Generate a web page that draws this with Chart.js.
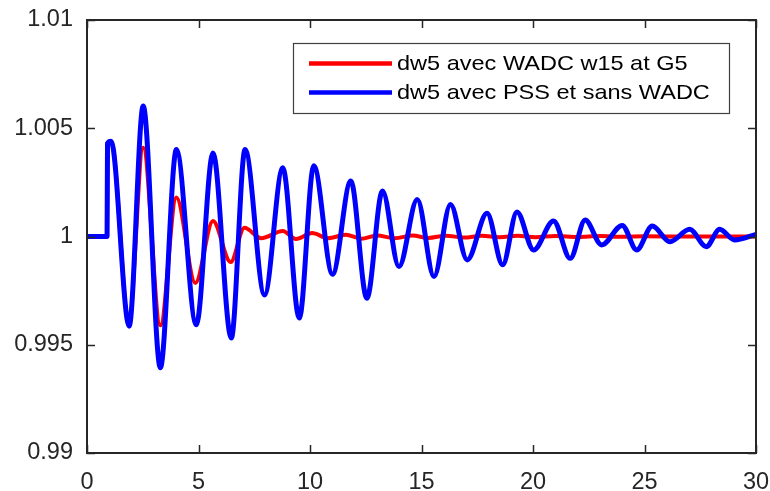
<!DOCTYPE html>
<html>
<head>
<meta charset="utf-8">
<title>dw5</title>
<script src="https://cdn.jsdelivr.net/npm/chart.js@4/dist/chart.umd.min.js"></script>
<style>
  html, body { margin: 0; padding: 0; background: #fff; }
  #plot { display: block; }
</style>
</head>
<body>
<canvas id="plot" width="770" height="491"></canvas>
<script>
// time axis ticks (s) and speed ticks (pu)
const xTicks = [0, 5, 10, 15, 20, 25, 30];
const yTicks = [0.99, 0.995, 1, 1.005, 1.01];

const seriesNames = ['dw5 avec WADC w15 at G5', 'dw5 avec PSS et sans WADC'];

// dw5 with WADC (w15 at G5): turning points of the response
const tWadc = [0, 0.9, 0.92, 1.08, 1.88, 2.52, 3.29, 4.01, 4.86, 5.65, 6.44, 7.06, 7.81, 8.78,
  9.37, 10.1, 10.8, 11.6, 12.3, 13.0, 13.8, 14.6, 15.3, 16.1, 16.9, 17.7, 18.5, 19.3, 20.1,
  21.0, 22.0, 23.0, 24.0, 25.0, 27.0, 30.0];
const wWadc = [1, 1, 1.0043, 1.0044, 0.9961, 1.0041, 0.9959, 1.0018, 0.99785, 1.00072, 0.99882, 1.0004, 0.99992, 1.00025,
  0.99988, 1.00016, 0.99992, 1.00008, 0.9999, 1.00005, 0.99992, 1.00005, 0.99993, 1.00004, 0.99995, 1.00003, 0.99996, 1.00003, 0.99997,
  1.00002, 0.99998, 1.00002, 0.99999, 1.00001, 1, 1];

// dw5 with PSS only, no WADC
const tPss = [0, 0.9, 0.92, 1.08, 1.89, 2.52, 3.29, 4.01, 4.9, 5.65, 6.47, 7.09, 7.96, 8.78,
  9.52, 10.17, 11.01, 11.83, 12.55, 13.25, 13.99, 14.81, 15.56, 16.3, 17.05, 17.94, 18.64, 19.28,
  20.03, 20.92, 21.67, 22.34, 23.08, 24.0, 24.65, 25.35, 26.14, 27.03, 27.77, 28.37, 29.04, 30];
const wPss = [1, 1, 1.0043, 1.0044, 0.99586, 1.00603, 0.99394, 1.00402, 0.99592, 1.00386, 0.99531, 1.00402, 0.9973, 1.00317,
  0.99623, 1.00327, 0.99826, 1.00256, 0.99715, 1.0021, 0.99861, 1.00171, 0.99815, 1.00148, 0.99892, 1.00107, 0.99869, 1.00113,
  0.99938, 1.00072, 0.99899, 1.00076, 0.99961, 1.00051, 0.99938, 1.00048, 0.99976, 1.00033, 0.99953, 1.00033, 0.99984, 1.0001];

const toPoints = (ts, vs) => ts.map((t, i) => ({ x: t, y: vs[i] }));

const FRAME = '#262626';
const FONT = '"Liberation Sans", Arial, Helvetica, sans-serif';

// box around the axes with inward ticks on all four sides, MATLAB style
const axesBox = {
  id: 'axesBox',
  afterDatasetsDraw(chart) {
    const { ctx, chartArea: a, scales } = chart;
    const len = 8;
    ctx.save();
    ctx.strokeStyle = FRAME;
    ctx.lineWidth = 1.5;
    ctx.beginPath();
    xTicks.forEach(v => {
      const px = Math.round(scales.x.getPixelForValue(v)) + 0.5;
      ctx.moveTo(px, a.bottom); ctx.lineTo(px, a.bottom - len);
      ctx.moveTo(px, a.top); ctx.lineTo(px, a.top + len);
    });
    yTicks.forEach(v => {
      const py = Math.round(scales.y.getPixelForValue(v)) + 0.5;
      ctx.moveTo(a.left, py); ctx.lineTo(a.left + len, py);
      ctx.moveTo(a.right, py); ctx.lineTo(a.right - len, py);
    });
    ctx.stroke();
    ctx.lineWidth = 2;
    ctx.strokeRect(a.left, a.top, a.right - a.left, a.bottom - a.top);
    ctx.restore();
  }
};

// legend drawn inside the axes, top right
const boxLegend = {
  id: 'boxLegend',
  afterDraw(chart) {
    const { ctx } = chart;
    const x0 = 293, y0 = 43, w = 436, h = 70;
    ctx.save();
    ctx.fillStyle = '#fff';
    ctx.fillRect(x0, y0, w, h);
    ctx.strokeStyle = '#404040';
    ctx.lineWidth = 1.2;
    ctx.strokeRect(x0 + 0.5, y0 + 0.5, w, h);
    ctx.textBaseline = 'middle';
    const rows = [63.5, 92.5];
    chart.data.datasets.forEach((ds, i) => {
      ctx.strokeStyle = ds.borderColor;
      ctx.lineWidth = 4.5;
      ctx.beginPath();
      ctx.moveTo(309, rows[i]);
      ctx.lineTo(392, rows[i]);
      ctx.stroke();
      // legend text is a bit wider than plain Arial
      ctx.save();
      ctx.translate(397, rows[i] + 1);
      ctx.scale(1.12, 1);
      ctx.font = '21px ' + FONT;
      ctx.fillStyle = '#000';
      ctx.fillText(ds.label, 0, 0);
      ctx.restore();
    });
    ctx.restore();
  }
};

new Chart(document.getElementById('plot'), {
  type: 'line',
  data: {
    datasets: [
      {
        label: seriesNames[0],
        data: toPoints(tWadc, wWadc),
        borderColor: '#ff0000',
        borderWidth: 4,
        order: 1
      },
      {
        label: seriesNames[1],
        data: toPoints(tPss, wPss),
        borderColor: '#0000ff',
        borderWidth: 5,
        order: 0
      }
    ]
  },
  options: {
    responsive: false,
    animation: false,
    events: [],
    layout: { padding: { top: 20, right: 14, left: 0, bottom: 0 } },
    elements: {
      point: { radius: 0 },
      line: { cubicInterpolationMode: 'monotone', fill: false, borderCapStyle: 'round', borderJoinStyle: 'round' }
    },
    plugins: {
      legend: { display: false },
      tooltip: { enabled: false }
    },
    scales: {
      x: {
        type: 'linear',
        min: 0,
        max: 30,
        grid: { display: false, drawTicks: false },
        border: { display: false },
        afterBuildTicks: s => { s.ticks = xTicks.map(v => ({ value: v })); },
        afterFit: s => { s.height = 38; s.paddingLeft = 0; s.paddingRight = 0; },
        ticks: {
          padding: 15,
          maxRotation: 0,
          color: FRAME,
          font: { family: FONT, size: 23.5 },
          callback: v => String(v)
        }
      },
      y: {
        type: 'linear',
        min: 0.99,
        max: 1.01,
        grid: { display: false, drawTicks: false },
        border: { display: false },
        afterBuildTicks: s => { s.ticks = yTicks.map(v => ({ value: v })); },
        afterFit: s => { s.width = 87; s.paddingTop = 0; s.paddingBottom = 0; },
        ticks: {
          padding: 14,
          color: FRAME,
          font: { family: FONT, size: 23.5 },
          callback: v => String(+v.toFixed(3))
        }
      }
    }
  },
  plugins: [axesBox, boxLegend]
});
</script>
</body>
</html>
